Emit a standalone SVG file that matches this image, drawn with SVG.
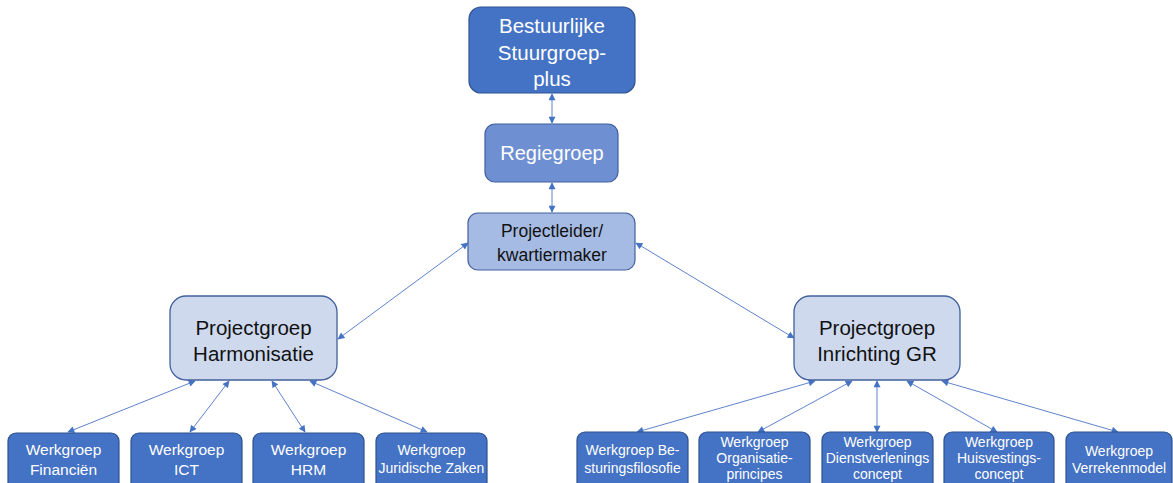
<svg xmlns="http://www.w3.org/2000/svg" width="1173" height="483" viewBox="0 0 1173 483">
<defs>
<style>
.t{font-family:"Liberation Sans",Arial,sans-serif;text-anchor:middle;dominant-baseline:central}
.w{fill:#ffffff}
.k{fill:#111111}
.s{font-size:14px}
.dark{fill:#4472C4;stroke:#2F528F;stroke-width:1.2}
.mid{fill:#6E90D2;stroke:#3F5F9E;stroke-width:1.2}
.lt{fill:#A6BBE4;stroke:#41609C;stroke-width:1.2}
.pale{fill:#CED9EE;stroke:#41609C;stroke-width:1.3}
.c{stroke:#5F83CC;stroke-width:1;fill:none;marker-start:url(#ah);marker-end:url(#ah)}
</style>
<marker id="ah" viewBox="0 0 10 10" refX="9" refY="5" markerWidth="8" markerHeight="7" markerUnits="userSpaceOnUse" orient="auto-start-reverse">
<path d="M0,0 L10,5 L0,10 z" fill="#4472C4"/>
</marker>
</defs>
<g id="connectors">
<line class="c" x1="552" y1="94" x2="552" y2="123"/>
<line class="c" x1="552" y1="183" x2="552" y2="212"/>
<line class="c" x1="468" y1="243" x2="338" y2="339"/>
<line class="c" x1="636" y1="243" x2="794" y2="338"/>
<line class="c" x1="195" y1="381" x2="68" y2="432"/>
<line class="c" x1="229" y1="381" x2="190" y2="432"/>
<line class="c" x1="272" y1="381" x2="305" y2="432"/>
<line class="c" x1="310" y1="381" x2="427" y2="432"/>
<line class="c" x1="815" y1="381" x2="637" y2="432"/>
<line class="c" x1="852" y1="381" x2="758" y2="432"/>
<line class="c" x1="877" y1="381" x2="877" y2="432"/>
<line class="c" x1="907" y1="381" x2="997" y2="432"/>
<line class="c" x1="942" y1="381" x2="1118" y2="432"/>
</g>
<g id="bestuurlijke">
<rect class="dark" x="469" y="7" width="166" height="86" rx="12"/>
<text class="t w" x="552" y="25" font-size="20.5">Bestuurlijke</text>
<text class="t w" x="552" y="52" font-size="20.5">Stuurgroep-</text>
<text class="t w" x="552" y="78" font-size="20.5">plus</text>
</g>
<g id="regiegroep">
<rect class="mid" x="485" y="124" width="133" height="58" rx="10"/>
<text class="t w" x="552" y="153" font-size="20">Regiegroep</text>
</g>
<g id="projectleider">
<rect class="lt" x="468" y="213" width="167" height="57" rx="10"/>
<text class="t k" x="552" y="231" font-size="17.5">Projectleider/</text>
<text class="t k" x="552" y="255" font-size="17.5">kwartiermaker</text>
</g>
<g id="harmonisatie">
<rect class="pale" x="170" y="296" width="167" height="84" rx="16"/>
<text class="t k" x="253.5" y="327" font-size="20.5">Projectgroep</text>
<text class="t k" x="253.5" y="353" font-size="20.5">Harmonisatie</text>
</g>
<g id="inrichting">
<rect class="pale" x="794" y="296" width="166" height="84" rx="16"/>
<text class="t k" x="877" y="327" font-size="20.5">Projectgroep</text>
<text class="t k" x="877" y="353" font-size="20.5">Inrichting GR</text>
</g>
<g id="wg-financien">
<rect class="dark" x="8" y="433" width="111" height="60" rx="8"/>
<text class="t w" x="63.5" y="449" font-size="15.5">Werkgroep</text>
<text class="t w" x="63.5" y="469" font-size="15.5">Financiën</text>
</g>
<g id="wg-ict">
<rect class="dark" x="131" y="433" width="111" height="60" rx="8"/>
<text class="t w" x="186.5" y="449" font-size="15.5">Werkgroep</text>
<text class="t w" x="186.5" y="469" font-size="15.5">ICT</text>
</g>
<g id="wg-hrm">
<rect class="dark" x="253" y="433" width="111" height="60" rx="8"/>
<text class="t w" x="308.5" y="449" font-size="15.5">Werkgroep</text>
<text class="t w" x="308.5" y="469" font-size="15.5">HRM</text>
</g>
<g id="wg-juridisch">
<rect class="dark" x="376" y="433" width="111" height="60" rx="8"/>
<text class="t w s" x="431.5" y="450">Werkgroep</text>
<text class="t w s" x="431.5" y="468">Juridische Zaken</text>
</g>
<g id="wg-besturing">
<rect class="dark" x="577" y="432" width="111" height="60" rx="8"/>
<text class="t w s" x="632.5" y="450">Werkgroep Be-</text>
<text class="t w s" x="632.5" y="468">sturingsfilosofie</text>
</g>
<g id="wg-organisatie">
<rect class="dark" x="699" y="432" width="111" height="60" rx="8"/>
<text class="t w s" x="754.5" y="442">Werkgroep</text>
<text class="t w s" x="754.5" y="458">Organisatie-</text>
<text class="t w s" x="754.5" y="474">principes</text>
</g>
<g id="wg-dienstverlening">
<rect class="dark" x="822" y="432" width="111" height="60" rx="8"/>
<text class="t w s" x="877.5" y="442">Werkgroep</text>
<text class="t w s" x="877.5" y="458">Dienstverlenings</text>
<text class="t w s" x="877.5" y="474">concept</text>
</g>
<g id="wg-huisvesting">
<rect class="dark" x="944" y="432" width="110" height="60" rx="8"/>
<text class="t w s" x="999" y="442">Werkgroep</text>
<text class="t w s" x="999" y="458">Huisvestings-</text>
<text class="t w s" x="999" y="474">concept</text>
</g>
<g id="wg-verreken">
<rect class="dark" x="1066" y="432" width="106" height="60" rx="8"/>
<text class="t w s" x="1119" y="451">Werkgroep</text>
<text class="t w s" x="1119" y="468">Verrekenmodel</text>
</g>
</svg>
